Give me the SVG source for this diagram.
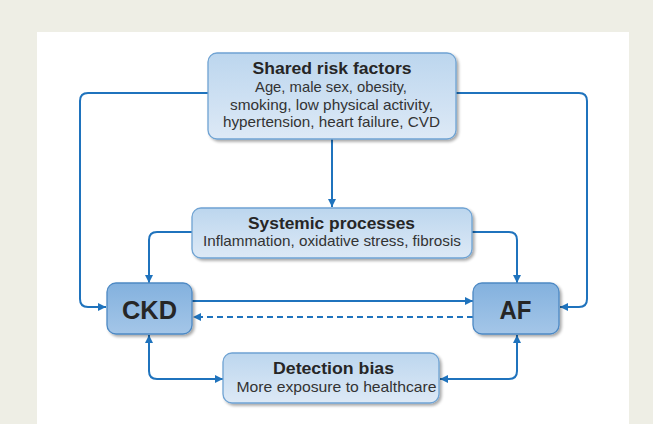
<svg xmlns="http://www.w3.org/2000/svg" width="653" height="424" viewBox="0 0 653 424">
<defs>
<linearGradient id="gLight" x1="0" y1="0" x2="0" y2="1">
<stop offset="0" stop-color="#bcd6ee"/>
<stop offset="1" stop-color="#dde9f6"/>
</linearGradient>
<linearGradient id="gDark" x1="0" y1="0" x2="0" y2="1">
<stop offset="0" stop-color="#83b1de"/>
<stop offset="1" stop-color="#a4c6e8"/>
</linearGradient>
<filter id="sh" x="-10%" y="-10%" width="130%" height="140%">
<feGaussianBlur in="SourceAlpha" stdDeviation="1.5"/>
<feOffset dx="2" dy="2" result="o"/>
<feComponentTransfer><feFuncA type="linear" slope="0.35"/></feComponentTransfer>
<feMerge><feMergeNode/><feMergeNode in="SourceGraphic"/></feMerge>
</filter>
<marker id="ah" viewBox="0 0 10 10" refX="10" refY="5" markerWidth="8" markerHeight="8" markerUnits="userSpaceOnUse" orient="auto-start-reverse">
<path d="M0,0 L10,5 L0,10 z" fill="#1f73bd"/>
</marker>
</defs>
<style>
.box{fill:url(#gLight);stroke:#6fa3d3;stroke-width:1.3;filter:url(#sh)}
.dbox{fill:url(#gDark);stroke:#4d89c4;stroke-width:1.3;filter:url(#sh)}
.ttl{font-family:"Liberation Sans",Arial,sans-serif;font-weight:bold;font-size:16px;fill:#262626;text-anchor:middle}
.txt{font-family:"Liberation Sans",Arial,sans-serif;font-size:14.5px;fill:#333333;text-anchor:middle}
.big{font-family:"Liberation Sans",Arial,sans-serif;font-weight:bold;font-size:26px;fill:#262626;text-anchor:middle}
.c{fill:none;stroke:#1f73bd;stroke-width:2}
</style>
<rect x="0" y="0" width="653" height="424" fill="#eeeee5"/>
<rect x="37" y="32" width="592" height="392" fill="#ffffff"/>

<g id="connectors">
<path class="c" d="M208,93 H88 Q80,93 80,101 V299 Q80,307 88,307 H106" marker-end="url(#ah)"/>
<path class="c" d="M456,93 H579 Q587,93 587,101 V299 Q587,307 579,307 H560" marker-end="url(#ah)"/>
<path class="c" d="M332,139 V207" marker-end="url(#ah)"/>
<path class="c" d="M192,232 H157 Q149,232 149,240 V283" marker-end="url(#ah)"/>
<path class="c" d="M472,232 H509 Q517,232 517,240 V283" marker-end="url(#ah)"/>
<path class="c" d="M192,301 H473" marker-end="url(#ah)"/>
<path class="c" d="M473,317 H193" stroke-dasharray="6,4" marker-end="url(#ah)"/>
<path class="c" d="M149,335 V371 Q149,379 157,379 H223" marker-start="url(#ah)" marker-end="url(#ah)"/>
<path class="c" d="M517,335 V371 Q517,379 509,379 H440" marker-start="url(#ah)" marker-end="url(#ah)"/>
</g>

<g id="shared">
<rect class="box" x="208" y="53" width="248" height="86" rx="9"/>
<text class="ttl" x="332" y="73.5" textLength="159" lengthAdjust="spacingAndGlyphs">Shared risk factors</text>
<text class="txt" x="331" y="92" textLength="152" lengthAdjust="spacingAndGlyphs">Age, male sex, obesity,</text>
<text class="txt" x="331.5" y="109.5" textLength="203" lengthAdjust="spacingAndGlyphs">smoking, low physical activity,</text>
<text class="txt" x="331.5" y="127" textLength="217" lengthAdjust="spacingAndGlyphs">hypertension, heart failure, CVD</text>
</g>

<g id="systemic">
<rect class="box" x="192" y="208" width="280" height="50" rx="9"/>
<text class="ttl" x="331.5" y="229" textLength="167" lengthAdjust="spacingAndGlyphs">Systemic processes</text>
<text class="txt" x="332" y="246" textLength="258" lengthAdjust="spacingAndGlyphs">Inflammation, oxidative stress, fibrosis</text>
</g>

<g id="ckd">
<rect class="dbox" x="107" y="283" width="85" height="51" rx="9"/>
<text class="big" x="149.5" y="319" textLength="55" lengthAdjust="spacingAndGlyphs">CKD</text>
</g>

<g id="af">
<rect class="dbox" x="473" y="283" width="86" height="51" rx="9"/>
<text class="big" x="515.5" y="319" textLength="32" lengthAdjust="spacingAndGlyphs">AF</text>
</g>

<g id="detection">
<rect class="box" x="223" y="353" width="216" height="50" rx="9"/>
<text class="ttl" x="333.5" y="374" textLength="121" lengthAdjust="spacingAndGlyphs">Detection bias</text>
<text class="txt" x="336.5" y="391.5" textLength="200" lengthAdjust="spacingAndGlyphs">More exposure to healthcare</text>
</g>
</svg>
